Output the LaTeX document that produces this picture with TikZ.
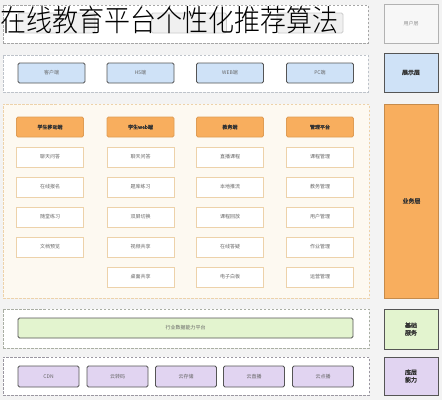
\documentclass[tikz,border=0pt]{standalone}
\usepackage{fontspec}
\setmainfont{Noto Sans CJK SC}[AutoFakeBold=2]
\newfontfamily\titlefont{Noto Sans CJK SC Light}
\usetikzlibrary{positioning}
\definecolor{bggray}{HTML}{F3F3F3}
\definecolor{edgedark}{HTML}{555555}
\definecolor{usergray}{HTML}{F0F0F0}
\definecolor{showblue}{HTML}{CFE2F7}
\definecolor{workorange}{HTML}{F8AE5E}
\definecolor{workcream}{HTML}{FDF9F1}
\definecolor{workedge}{HTML}{EDD2AA}
\definecolor{basegreen}{HTML}{E3F4CF}
\definecolor{lowpurple}{HTML}{E1D4F1}
\tikzset{grp/.style = {draw, line width = 0.7, dash pattern = on 2.5pt off 1.5pt, fill = white, inner sep = 0,
                       minimum width = 365, minimum height = 38},
         lbl/.style = {draw = edgedark, line width = 0.9, inner sep = 0, align = center,
                       minimum width = 54, minimum height = 39, text = black!80,
                       font = \fontsize{6}{7.5}\selectfont\bfseries},
         tile/.style = {draw = edgedark, line width = 0.9, rounded corners = 1.5, inner sep = 0,
                        minimum width = 67, minimum height = 20, text = black!60,
                        font = \fontsize{5}{6}\selectfont},
         head/.style = {tile, draw = workorange!90!black, fill = workorange, text = black!80,
                        font = \fontsize{5}{6}\selectfont\bfseries},
         cell/.style = {tile, draw = workedge, fill = white, rounded corners = 0}}

\begin{document}
\begin{tikzpicture}[x=1pt, y=-1pt]
          \useasboundingbox [fill = bggray] (0, 0) rectangle (442, 400);

          % user layer
          \node [grp, draw = black!35] (usergrp) at (185.5, 24) {};
          \node [tile, draw = black!20, fill = usergray, minimum width = 77] (user1) at (56.5, 23) {};
          \node [tile, draw = black!20, fill = usergray, minimum width = 75] (user2) at (189, 23) {};
          \node [tile, draw = black!20, fill = usergray, minimum width = 66] (user3) at (310, 23) {};
          \node [lbl, draw = black!30, fill = white!97!black, text = black!45,
                 font = \fontsize{5}{6}\selectfont] (userlbl) at (411, 23.5) {用户层};

          % display layer
          \node [grp, draw = showblue!60!black!50, minimum height = 37] (showgrp) at (185.5, 73.5) {};
          \node [tile, fill = showblue] (show1) at (51.5, 73) {客户端};
          \node [tile, fill = showblue] (show2) at (140.5, 73) {H5端};
          \node [tile, fill = showblue] (show3) at (230, 73) {WEB端};
          \node [tile, fill = showblue] (show4) at (320, 73) {PC端};
          \node [lbl, fill = showblue] (showlbl) at (411, 72.5) {展示层};

          % business layer
          \node [grp, draw = workedge, fill = workcream, minimum width = 366, minimum height = 194] (workgrp) at (186, 201) {};
          \node [lbl, draw = workorange!80!black, fill = workorange, minimum height = 194] (worklbl) at (411.5, 201) {业务层};

          \node [head] (mobile) at (50, 127) {学生移动端};
          \node [head] (web) at (140.5, 127) {学生web端};
          \node [head] (teach) at (230, 127) {教务端};
          \node [head] (admin) at (320, 127) {管理平台};

          \node [cell] (mobile1) at (50, 157) {聊天问答};
          \node [cell] (mobile2) at (50, 187) {在线报名};
          \node [cell] (mobile3) at (50, 217) {随堂练习};
          \node [cell] (mobile4) at (50, 247) {文档预览};

          \node [cell] (web1) at (140.5, 157) {聊天问答};
          \node [cell] (web2) at (140.5, 187) {题库练习};
          \node [cell] (web3) at (140.5, 217) {双屏切换};
          \node [cell] (web4) at (140.5, 247) {视频共享};
          \node [cell] (web5) at (140.5, 277) {桌面共享};

          \node [cell] (teach1) at (230, 157) {直播课程};
          \node [cell] (teach2) at (230, 187) {本地推流};
          \node [cell] (teach3) at (230, 217) {课程回放};
          \node [cell] (teach4) at (230, 247) {在线答疑};
          \node [cell] (teach5) at (230, 277) {电子白板};

          \node [cell] (admin1) at (320, 157) {课程管理};
          \node [cell] (admin2) at (320, 187) {教务管理};
          \node [cell] (admin3) at (320, 217) {用户管理};
          \node [cell] (admin4) at (320, 247) {作业管理};
          \node [cell] (admin5) at (320, 277) {运营管理};

          % base services
          \node [grp, draw = basegreen!50!black!60, minimum width = 366, minimum height = 39] (basegrp) at (186, 328.5) {};
          \node [tile, fill = basegreen, minimum width = 335] (platform) at (185.5, 328) {行业数据能力平台};
          \node [lbl, fill = basegreen, minimum height = 40] (baselbl) at (411, 329) {基础\\服务};

          % low level
          \node [grp, draw = lowpurple!50!black!70, minimum width = 366] (lowgrp) at (186, 376) {};
          \node [tile, fill = lowpurple, minimum width = 61, minimum height = 21] (cdn) at (48.5, 376.5) {CDN};
          \node [tile, fill = lowpurple, minimum width = 61, minimum height = 21] (transcode) at (117.5, 376.5) {云转码};
          \node [tile, fill = lowpurple, minimum width = 61, minimum height = 21] (storage) at (186, 376.5) {云存储};
          \node [tile, fill = lowpurple, minimum width = 61, minimum height = 21] (live) at (254, 376.5) {云直播};
          \node [tile, fill = lowpurple, minimum width = 61, minimum height = 21] (vod) at (323, 376.5) {云点播};
          \node [lbl, fill = lowpurple, minimum height = 38] (lowlbl) at (411, 376) {底层\\能力};

          % title on top
          \node [anchor = west, inner sep = 0, yscale = 1.15,
                 font = \fontsize{26}{26}\selectfont\titlefont] (title) at (0, 20) {在线教育平台个性化推荐算法};
        \end{tikzpicture}
\end{document}
